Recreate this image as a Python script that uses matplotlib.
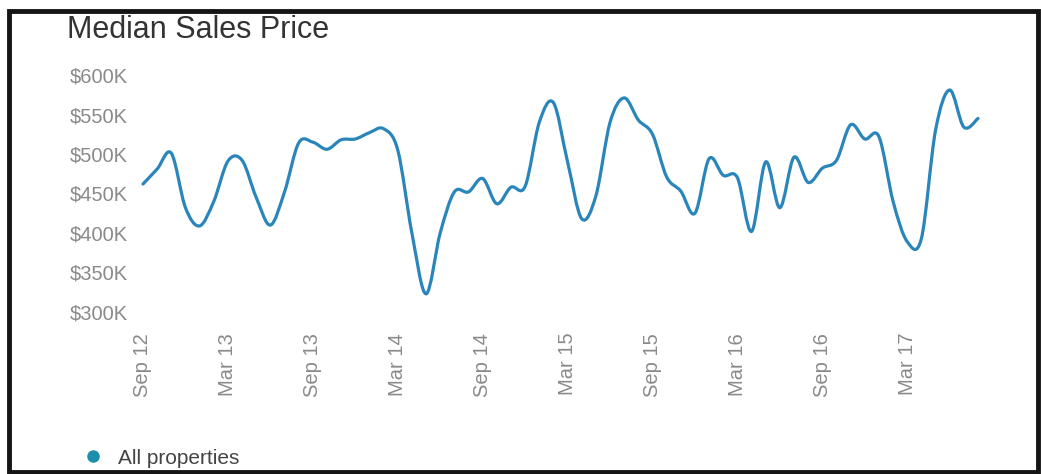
import numpy as np
import matplotlib.pyplot as plt
from matplotlib.path import Path
from matplotlib.patches import PathPatch, Rectangle
from matplotlib.lines import Line2D
from matplotlib.ticker import FuncFormatter

plt.rcParams['font.family'] = ['Liberation Sans', 'DejaVu Sans']

# monthly median sale price in $K, Sep 2012 .. Aug 2017
price_k = [462, 481, 501, 432, 409, 440, 491, 492, 445, 410,
           452, 514, 515, 506, 518, 519, 527, 532, 505, 400,
           323, 400, 452, 452, 469, 437, 458, 459, 540, 565,
           490, 418, 447, 540, 571, 543, 525, 471, 453, 425,
           494, 473, 470, 402, 490, 432, 496, 464, 482, 492,
           537, 519, 522, 440, 389, 393, 530, 581, 534, 545]
tick_labels = ['Sep 12', 'Mar 13', 'Sep 13', 'Mar 14', 'Sep 14',
               'Mar 15', 'Sep 15', 'Mar 16', 'Sep 16', 'Mar 17']
y_ticks = [300, 350, 400, 450, 500, 550, 600]

line_col = '#2a86ba'
dot_col = '#1b8fae'
W, H = 1041, 474


def smooth_path(x, y, k=1 / 6):
    # cardinal spline through the points, as bezier segments
    pts = np.column_stack([x, y]).astype(float)
    n = len(pts)
    verts = [pts[0]]
    codes = [Path.MOVETO]
    for i in range(n - 1):
        p0 = pts[max(i - 1, 0)]
        p1 = pts[i]
        p2 = pts[i + 1]
        p3 = pts[min(i + 2, n - 1)]
        verts += [p1 + (p2 - p0) * k, p2 - (p3 - p1) * k, p2]
        codes += [Path.CURVE4] * 3
    return Path(verts, codes)


fig = plt.figure(figsize=(W / 100, H / 100), dpi=100)
ax = fig.add_axes([143 / W, 1 - 312 / H, (978 - 143) / W, (312 - 75) / H])

x = np.arange(len(price_k))
ax.add_patch(PathPatch(smooth_path(x, price_k), facecolor='none',
                       edgecolor=line_col, lw=2.3, capstyle='round',
                       joinstyle='round', clip_on=False))
ax.set_xlim(0, len(price_k) - 1)
ax.set_ylim(300, 600)

ax.set_yticks(y_ticks)
ax.yaxis.set_major_formatter(FuncFormatter(lambda v, p: '$%dK' % v))
ax.set_xticks(np.arange(0, 60, 6))
ax.set_xticklabels(tick_labels, rotation=90)
ax.tick_params(axis='y', length=0, pad=11, labelsize=14.5, labelcolor='#8a8a8a')
ax.tick_params(axis='x', length=0, pad=15, labelsize=14.5, labelcolor='#8a8a8a')
for s in ax.spines.values():
    s.set_visible(False)

fig.text(67 / W, 1 - 38 / H, 'Median Sales Price', fontsize=22,
         color='#333333', va='baseline')

h = Line2D([], [], marker='o', ls='', color=dot_col, markersize=8,
           label='All properties')
fig.legend(handles=[h], loc='center left', bbox_to_anchor=(72 / W, 1 - 458 / H),
           frameon=False, fontsize=15, handletextpad=0.2, borderaxespad=0,
           borderpad=0, labelcolor='#444444')

# dark frame round the whole panel
fig.patches.append(Rectangle((9 / W, 2 / H), (1038 - 9) / W, (472 - 11) / H,
                             transform=fig.transFigure, fill=False,
                             edgecolor='#151515', lw=3.5))

fig.savefig('out.png', dpi=100)
